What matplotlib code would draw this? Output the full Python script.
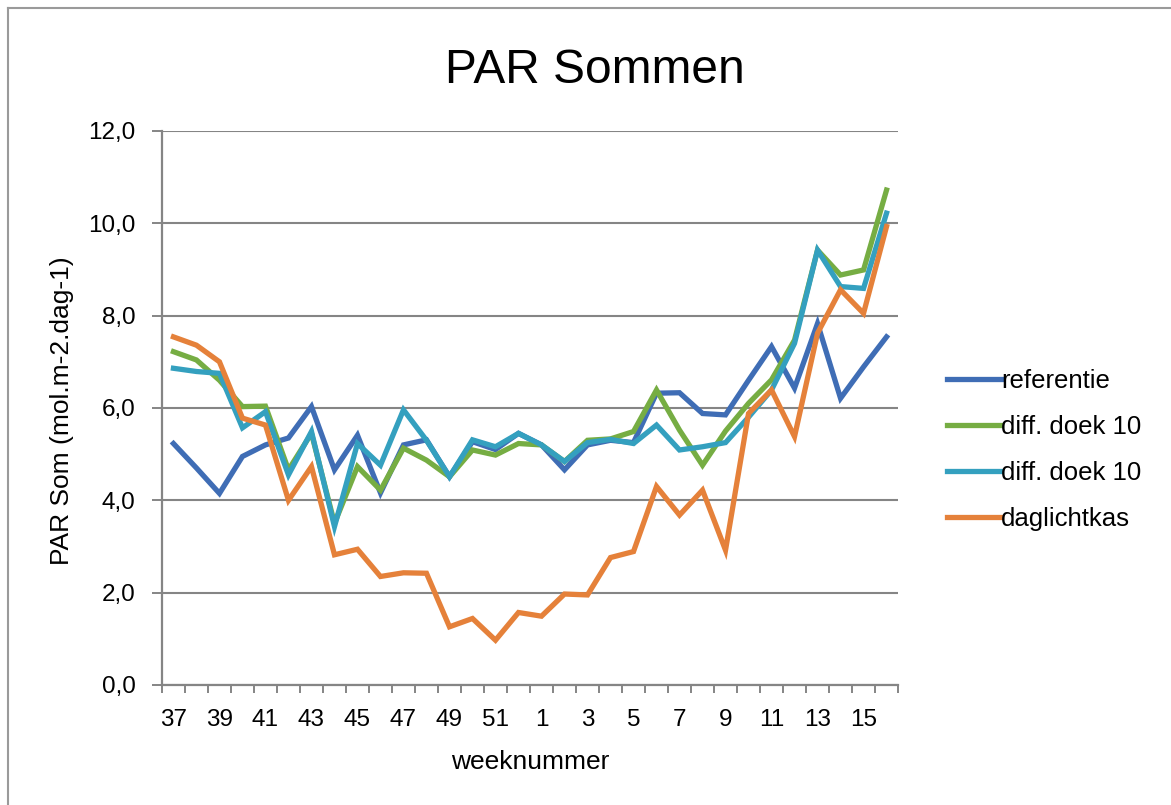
import matplotlib.pyplot as plt
from matplotlib.lines import Line2D
from matplotlib.ticker import FixedLocator, FuncFormatter

plt.rcParams['font.family'] = ['Liberation Sans', 'DejaVu Sans']

# weeknummers: 37..52 en daarna 1..16
weeks = list(range(37, 53)) + list(range(1, 17))

referentie = [5.23, 4.70, 4.15, 4.95, 5.20, 5.35, 6.03, 4.66, 5.41, 4.16,
              5.20, 5.31, 4.51, 5.27, 5.10, 5.45, 5.20, 4.66, 5.20, 5.30,
              5.25, 6.32, 6.33, 5.88, 5.85, 6.60, 7.33, 6.43, 7.83, 6.21,
              6.89, 7.54]
doek_a = [7.22, 7.04, 6.60, 6.03, 6.04, 4.66, 5.45, 3.50, 4.73, 4.22,
          5.13, 4.87, 4.51, 5.09, 4.98, 5.23, 5.20, 4.84, 5.30, 5.33,
          5.49, 6.39, 5.52, 4.76, 5.50, 6.10, 6.61, 7.47, 9.42, 8.88,
          8.99, 10.72]
doek_b = [6.86, 6.79, 6.75, 5.57, 5.92, 4.55, 5.49, 3.43, 5.23, 4.76,
          5.96, 5.30, 4.51, 5.31, 5.16, 5.45, 5.20, 4.84, 5.25, 5.32,
          5.23, 5.63, 5.09, 5.16, 5.25, 5.80, 6.39, 7.40, 9.42, 8.63,
          8.59, 10.22]
daglichtkas = [7.54, 7.36, 7.00, 5.78, 5.63, 4.00, 4.73, 2.82, 2.94, 2.35,
               2.43, 2.42, 1.26, 1.44, 0.97, 1.57, 1.49, 1.97, 1.95, 2.76,
               2.89, 4.30, 3.68, 4.22, 2.92, 5.88, 6.39, 5.38, 7.62, 8.56,
               8.05, 9.93]

series = [
    ('referentie', referentie, '#3f6db5'),
    ('diff. doek 10', doek_a, '#76ad43'),
    ('diff. doek 10', doek_b, '#34a0bf'),
    ('daglichtkas', daglichtkas, '#e5813a'),
]

fig = plt.figure(figsize=(11.71, 8.05), dpi=100)
ax = fig.add_axes([0.1383, 0.1491, 0.6286, 0.6882])

x = range(len(weeks))
for name, vals, col in series:
    ax.plot(x, vals, color=col, lw=3.8, label=name, solid_joinstyle='miter')

ax.set_xlim(-0.5, len(weeks) - 0.5)
ax.set_ylim(0, 12)

# y-as: grijze rasterlijnen, komma als decimaal
ax.set_yticks(range(0, 13, 2))
ax.yaxis.set_major_formatter(FuncFormatter(lambda v, p: ('%.1f' % v).replace('.', ',')))
ax.grid(axis='y', color='#858585', lw=1.5)
ax.set_axisbelow(True)

# x-as: streepjes tussen categorieen, labels om de week
ax.xaxis.set_major_locator(FixedLocator([i - 0.5 for i in range(len(weeks) + 1)]))
ax.xaxis.set_major_formatter(FuncFormatter(lambda v, p: ''))
ax.xaxis.set_minor_locator(FixedLocator(list(range(0, len(weeks), 2))))
ax.set_xticklabels([str(w) for w in weeks[::2]], minor=True)
ax.tick_params(axis='x', which='major', length=6, width=1.4, color='#858585', direction='out')
ax.tick_params(axis='x', which='minor', length=0, pad=17, labelsize=17.5)
ax.tick_params(axis='y', length=7, width=1.4, color='#858585', pad=12, labelsize=17.5)

for s in ['top', 'right']:
    ax.spines[s].set_visible(False)
for s in ['left', 'bottom']:
    ax.spines[s].set_color('#858585')
    ax.spines[s].set_linewidth(1.6)

fig.text(0.508, 0.913, 'PAR Sommen', ha='center', va='center', fontsize=34.5)
fig.text(0.453, 0.053, 'weeknummer', ha='center', va='center', fontsize=19)
fig.text(0.053, 0.49, 'PAR Som (mol.m-2.dag-1)', ha='center', va='center',
         rotation=90, fontsize=19)

fig.legend(loc='center left', bbox_to_anchor=(0.789, 0.441), frameon=False,
           fontsize=18.5, handlelength=2.1, handletextpad=0.0, labelspacing=0.85)

# rand van de screenshot
fig.add_artist(Line2D([0.007, 0.007], [0, 0.99], color='#9a9a9a', lw=1.5, transform=fig.transFigure))
fig.add_artist(Line2D([0.007, 1], [0.99, 0.99], color='#9a9a9a', lw=1.5, transform=fig.transFigure))

fig.savefig('out.png', dpi=100)
